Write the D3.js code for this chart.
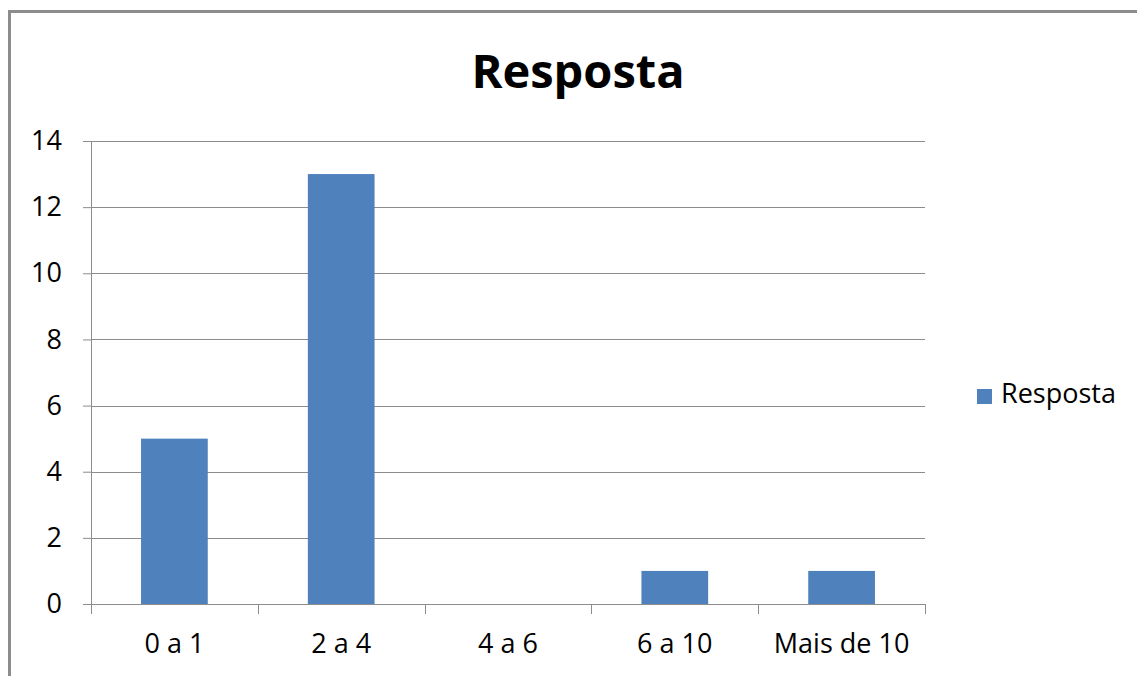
<!DOCTYPE html>
<html>
<head>
<meta charset="utf-8">
<script src="https://cdn.jsdelivr.net/npm/d3@7"></script>
<style>
  body { margin: 0; background: #fff; }
  text { font-family: "Open Sans", "Noto Sans", sans-serif; fill: #000; }
</style>
</head>
<body>
<div id="chart"></div>
<script>
let categories = ["0 a 1", "2 a 4", "4 a 6", "6 a 10", "Mais de 10"];
let values = [5, 13, 0, 1, 1];
let yTicks = [0, 2, 4, 6, 8, 10, 12, 14];
let seriesName = "Resposta";

let W = 1137, H = 676;
let margin = { top: 141, right: 212, bottom: 72, left: 91 },
    width = W - margin.left - margin.right,
    height = H - margin.top - margin.bottom;

let svg = d3.select("#chart")
    .append("svg")
    .attr("width", W)
    .attr("height", H);

// chart frame
svg.append("rect")
    .attr("x", 9.5).attr("y", 11.5)
    .attr("width", W + 20).attr("height", H + 20)
    .attr("fill", "none")
    .attr("stroke", "#8c8c8c")
    .attr("stroke-width", 3);

svg.append("text")
    .attr("x", 578).attr("y", 88)
    .attr("text-anchor", "middle")
    .style("font-size", "47px")
    .style("font-weight", "bold")
    .text(seriesName);

let g = svg.append("g")
    .attr("transform", `translate(${margin.left},${margin.top})`);

let x = d3.scaleBand()
    .domain(categories)
    .range([0, width])
    .paddingInner(0.6)
    .paddingOuter(0.3);

let y = d3.scaleLinear()
    .domain([0, 14])
    .range([height, 0]);

// gridlines
g.selectAll("line.grid")
    .data(yTicks.filter(d => d > 0))
    .enter().append("line")
    .attr("class", "grid")
    .attr("x1", 0).attr("x2", width)
    .attr("y1", d => Math.round(y(d)) + 0.5)
    .attr("y2", d => Math.round(y(d)) + 0.5)
    .attr("stroke", "#8c8c8c")
    .attr("stroke-width", 1);

g.selectAll("rect.bar")
    .data(values)
    .enter().append("rect")
    .attr("class", "bar")
    .attr("x", (d, i) => x(categories[i]))
    .attr("y", d => y(d))
    .attr("width", x.bandwidth())
    .attr("height", d => height - y(d))
    .attr("fill", "#4f81bd");

// y axis
let yAxis = g.append("g")
    .call(d3.axisLeft(y).tickValues(yTicks).tickSize(8).tickPadding(21));
yAxis.select(".domain").attr("stroke", "#8c8c8c").attr("d", `M0.5,0V${height}`);
yAxis.selectAll(".tick line").attr("stroke", "#8c8c8c");
yAxis.selectAll(".tick text")
    .style("font-size", "27px")
    .style("font-family", "'Open Sans', sans-serif")
    .attr("fill", "#000");

// x axis with ticks at band boundaries
let step = width / categories.length;
let xg = g.append("g").attr("transform", `translate(0,${height})`);
xg.append("line")
    .attr("x1", 0).attr("x2", width)
    .attr("y1", 0.5).attr("y2", 0.5)
    .attr("stroke", "#8c8c8c");
xg.selectAll("line.tk")
    .data(d3.range(categories.length + 1))
    .enter().append("line")
    .attr("class", "tk")
    .attr("x1", d => Math.round(d * step) + 0.5)
    .attr("x2", d => Math.round(d * step) + 0.5)
    .attr("y1", 0).attr("y2", 10)
    .attr("stroke", "#8c8c8c");
xg.selectAll("text")
    .data(categories)
    .enter().append("text")
    .attr("x", d => x(d) + x.bandwidth() / 2)
    .attr("y", 49)
    .attr("text-anchor", "middle")
    .style("font-size", "27px")
    .text(d => d);

// legend
let legend = svg.append("g").attr("transform", "translate(977,389)");
legend.append("rect")
    .attr("width", 15).attr("height", 15)
    .attr("fill", "#4f81bd");
legend.append("text")
    .attr("x", 24).attr("y", 14)
    .style("font-size", "27px")
    .text(seriesName);
</script>
</body>
</html>
